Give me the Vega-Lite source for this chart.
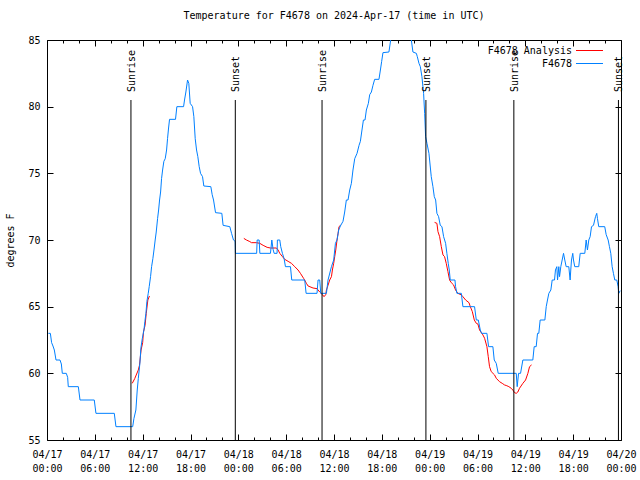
{
  "$schema": "https://vega.github.io/schema/vega-lite/v6.json",
  "width": 574,
  "height": 400,
  "autosize": {"type": "none"},
  "padding": {"left": 47, "top": 40, "right": 19, "bottom": 40},
  "background": "white",
  "title": {"text": "Temperature for F4678 on 2024-Apr-17 (time in UTC)", "font": "DejaVu Sans Mono", "fontSize": 10, "fontWeight": "normal", "anchor": "middle", "offset": 14, "color": "black"},
  "config": {
    "view": {"stroke": "black", "strokeWidth": 1},
    "axis": {"labelFont": "DejaVu Sans Mono", "labelFontSize": 10, "labelColor": "black", "tickColor": "black", "tickWidth": 1, "domain": false, "grid": false, "titleFont": "DejaVu Sans Mono", "titleFontSize": 10, "titleFontWeight": "normal", "titleColor": "black"}
  },
  "datasets": {
    "obs": [
      {"series": "F4678 Analysis", "seg": "a1", "hour": 10.69, "temp": 59.25},
      {"series": "F4678 Analysis", "seg": "a1", "hour": 11.0, "temp": 59.6},
      {"series": "F4678 Analysis", "seg": "a1", "hour": 11.45, "temp": 60.25},
      {"series": "F4678 Analysis", "seg": "a1", "hour": 11.6, "temp": 60.6},
      {"series": "F4678 Analysis", "seg": "a1", "hour": 11.8, "temp": 61.75},
      {"series": "F4678 Analysis", "seg": "a1", "hour": 12.0, "temp": 62.3},
      {"series": "F4678 Analysis", "seg": "a1", "hour": 12.1, "temp": 63.1},
      {"series": "F4678 Analysis", "seg": "a1", "hour": 12.3, "temp": 63.6},
      {"series": "F4678 Analysis", "seg": "a1", "hour": 12.45, "temp": 64.5},
      {"series": "F4678 Analysis", "seg": "a1", "hour": 12.65, "temp": 65.5},
      {"series": "F4678 Analysis", "seg": "a1", "hour": 12.85, "temp": 65.8},
      {"series": "F4678 Analysis", "seg": "a2", "hour": 24.69, "temp": 70.12},
      {"series": "F4678 Analysis", "seg": "a2", "hour": 25.02, "temp": 70.0},
      {"series": "F4678 Analysis", "seg": "a2", "hour": 25.44, "temp": 69.88},
      {"series": "F4678 Analysis", "seg": "a2", "hour": 25.65, "temp": 69.8},
      {"series": "F4678 Analysis", "seg": "a2", "hour": 26.28, "temp": 69.8},
      {"series": "F4678 Analysis", "seg": "a2", "hour": 26.69, "temp": 69.75},
      {"series": "F4678 Analysis", "seg": "a2", "hour": 27.11, "temp": 69.6},
      {"series": "F4678 Analysis", "seg": "a2", "hour": 27.61, "temp": 69.45},
      {"series": "F4678 Analysis", "seg": "a2", "hour": 28.03, "temp": 69.4},
      {"series": "F4678 Analysis", "seg": "a2", "hour": 28.78, "temp": 69.4},
      {"series": "F4678 Analysis", "seg": "a2", "hour": 28.99, "temp": 69.25},
      {"series": "F4678 Analysis", "seg": "a2", "hour": 29.2, "temp": 69.0},
      {"series": "F4678 Analysis", "seg": "a2", "hour": 29.54, "temp": 68.75},
      {"series": "F4678 Analysis", "seg": "a2", "hour": 29.82, "temp": 68.55},
      {"series": "F4678 Analysis", "seg": "a2", "hour": 30.24, "temp": 68.4},
      {"series": "F4678 Analysis", "seg": "a2", "hour": 30.66, "temp": 68.25},
      {"series": "F4678 Analysis", "seg": "a2", "hour": 31.08, "temp": 68.0},
      {"series": "F4678 Analysis", "seg": "a2", "hour": 31.49, "temp": 67.75},
      {"series": "F4678 Analysis", "seg": "a2", "hour": 31.79, "temp": 67.5},
      {"series": "F4678 Analysis", "seg": "a2", "hour": 32.21, "temp": 67.1},
      {"series": "F4678 Analysis", "seg": "a2", "hour": 32.54, "temp": 66.75},
      {"series": "F4678 Analysis", "seg": "a2", "hour": 32.75, "temp": 66.55},
      {"series": "F4678 Analysis", "seg": "a2", "hour": 33.37, "temp": 66.4},
      {"series": "F4678 Analysis", "seg": "a2", "hour": 33.87, "temp": 66.35},
      {"series": "F4678 Analysis", "seg": "a2", "hour": 34.21, "temp": 66.1},
      {"series": "F4678 Analysis", "seg": "a2", "hour": 34.55, "temp": 65.9},
      {"series": "F4678 Analysis", "seg": "a2", "hour": 34.75, "temp": 65.75},
      {"series": "F4678 Analysis", "seg": "a2", "hour": 34.96, "temp": 65.9},
      {"series": "F4678 Analysis", "seg": "a2", "hour": 35.05, "temp": 66.25},
      {"series": "F4678 Analysis", "seg": "a2", "hour": 35.25, "temp": 66.6},
      {"series": "F4678 Analysis", "seg": "a2", "hour": 35.46, "temp": 67.0},
      {"series": "F4678 Analysis", "seg": "a2", "hour": 35.68, "temp": 67.25},
      {"series": "F4678 Analysis", "seg": "a2", "hour": 35.8, "temp": 67.75},
      {"series": "F4678 Analysis", "seg": "a2", "hour": 35.96, "temp": 68.25},
      {"series": "F4678 Analysis", "seg": "a2", "hour": 36.09, "temp": 68.75},
      {"series": "F4678 Analysis", "seg": "a2", "hour": 36.22, "temp": 69.25},
      {"series": "F4678 Analysis", "seg": "a2", "hour": 36.38, "temp": 70.0},
      {"series": "F4678 Analysis", "seg": "a2", "hour": 36.51, "temp": 70.5},
      {"series": "F4678 Analysis", "seg": "a2", "hour": 36.63, "temp": 71.0},
      {"series": "F4678 Analysis", "seg": "a2", "hour": 36.8, "temp": 71.1},
      {"series": "F4678 Analysis", "seg": "a3", "hour": 48.62, "temp": 71.32},
      {"series": "F4678 Analysis", "seg": "a3", "hour": 48.91, "temp": 71.25},
      {"series": "F4678 Analysis", "seg": "a3", "hour": 49.04, "temp": 70.63},
      {"series": "F4678 Analysis", "seg": "a3", "hour": 49.25, "temp": 70.25},
      {"series": "F4678 Analysis", "seg": "a3", "hour": 49.46, "temp": 69.5},
      {"series": "F4678 Analysis", "seg": "a3", "hour": 49.67, "temp": 68.88},
      {"series": "F4678 Analysis", "seg": "a3", "hour": 49.87, "temp": 68.75},
      {"series": "F4678 Analysis", "seg": "a3", "hour": 50.08, "temp": 68.25},
      {"series": "F4678 Analysis", "seg": "a3", "hour": 50.29, "temp": 67.63},
      {"series": "F4678 Analysis", "seg": "a3", "hour": 50.5, "temp": 67.0},
      {"series": "F4678 Analysis", "seg": "a3", "hour": 50.71, "temp": 66.8},
      {"series": "F4678 Analysis", "seg": "a3", "hour": 51.0, "temp": 66.63},
      {"series": "F4678 Analysis", "seg": "a3", "hour": 51.25, "temp": 66.25},
      {"series": "F4678 Analysis", "seg": "a3", "hour": 51.54, "temp": 66.0},
      {"series": "F4678 Analysis", "seg": "a3", "hour": 51.97, "temp": 65.88},
      {"series": "F4678 Analysis", "seg": "a3", "hour": 52.17, "temp": 65.75},
      {"series": "F4678 Analysis", "seg": "a3", "hour": 52.51, "temp": 65.5},
      {"series": "F4678 Analysis", "seg": "a3", "hour": 52.93, "temp": 65.3},
      {"series": "F4678 Analysis", "seg": "a3", "hour": 53.1, "temp": 65.0},
      {"series": "F4678 Analysis", "seg": "a3", "hour": 53.35, "temp": 64.63},
      {"series": "F4678 Analysis", "seg": "a3", "hour": 53.6, "temp": 64.0},
      {"series": "F4678 Analysis", "seg": "a3", "hour": 53.85, "temp": 63.75},
      {"series": "F4678 Analysis", "seg": "a3", "hour": 54.05, "temp": 63.7},
      {"series": "F4678 Analysis", "seg": "a3", "hour": 54.26, "temp": 63.25},
      {"series": "F4678 Analysis", "seg": "a3", "hour": 54.68, "temp": 62.88},
      {"series": "F4678 Analysis", "seg": "a3", "hour": 54.89, "temp": 62.63},
      {"series": "F4678 Analysis", "seg": "a3", "hour": 55.18, "temp": 62.0},
      {"series": "F4678 Analysis", "seg": "a3", "hour": 55.35, "temp": 61.25},
      {"series": "F4678 Analysis", "seg": "a3", "hour": 55.51, "temp": 60.5},
      {"series": "F4678 Analysis", "seg": "a3", "hour": 55.72, "temp": 60.13},
      {"series": "F4678 Analysis", "seg": "a3", "hour": 56.14, "temp": 59.88},
      {"series": "F4678 Analysis", "seg": "a3", "hour": 56.35, "temp": 59.63},
      {"series": "F4678 Analysis", "seg": "a3", "hour": 56.77, "temp": 59.37},
      {"series": "F4678 Analysis", "seg": "a3", "hour": 57.1, "temp": 59.25},
      {"series": "F4678 Analysis", "seg": "a3", "hour": 57.39, "temp": 59.13},
      {"series": "F4678 Analysis", "seg": "a3", "hour": 57.68, "temp": 59.07},
      {"series": "F4678 Analysis", "seg": "a3", "hour": 57.93, "temp": 59.0},
      {"series": "F4678 Analysis", "seg": "a3", "hour": 58.23, "temp": 58.88},
      {"series": "F4678 Analysis", "seg": "a3", "hour": 58.43, "temp": 58.75},
      {"series": "F4678 Analysis", "seg": "a3", "hour": 58.65, "temp": 58.55},
      {"series": "F4678 Analysis", "seg": "a3", "hour": 58.86, "temp": 58.5},
      {"series": "F4678 Analysis", "seg": "a3", "hour": 59.06, "temp": 58.6},
      {"series": "F4678 Analysis", "seg": "a3", "hour": 59.27, "temp": 58.88},
      {"series": "F4678 Analysis", "seg": "a3", "hour": 59.69, "temp": 59.25},
      {"series": "F4678 Analysis", "seg": "a3", "hour": 60.03, "temp": 59.5},
      {"series": "F4678 Analysis", "seg": "a3", "hour": 60.32, "temp": 60.0},
      {"series": "F4678 Analysis", "seg": "a3", "hour": 60.53, "temp": 60.5},
      {"series": "F4678 Analysis", "seg": "a3", "hour": 60.78, "temp": 60.63},
      {"series": "F4678", "seg": "b", "hour": 0.17, "temp": 63.0},
      {"series": "F4678", "seg": "b", "hour": 0.42, "temp": 63.0},
      {"series": "F4678", "seg": "b", "hour": 0.58, "temp": 62.3},
      {"series": "F4678", "seg": "b", "hour": 0.75, "temp": 62.05},
      {"series": "F4678", "seg": "b", "hour": 0.92, "temp": 61.75},
      {"series": "F4678", "seg": "b", "hour": 1.13, "temp": 61.0},
      {"series": "F4678", "seg": "b", "hour": 1.63, "temp": 61.0},
      {"series": "F4678", "seg": "b", "hour": 1.8, "temp": 60.7},
      {"series": "F4678", "seg": "b", "hour": 1.92, "temp": 60.0},
      {"series": "F4678", "seg": "b", "hour": 2.42, "temp": 60.0},
      {"series": "F4678", "seg": "b", "hour": 2.59, "temp": 59.7},
      {"series": "F4678", "seg": "b", "hour": 2.67, "temp": 59.0},
      {"series": "F4678", "seg": "b", "hour": 3.93, "temp": 59.0},
      {"series": "F4678", "seg": "b", "hour": 4.14, "temp": 58.0},
      {"series": "F4678", "seg": "b", "hour": 5.93, "temp": 58.0},
      {"series": "F4678", "seg": "b", "hour": 6.14, "temp": 57.0},
      {"series": "F4678", "seg": "b", "hour": 8.44, "temp": 57.0},
      {"series": "F4678", "seg": "b", "hour": 8.65, "temp": 56.0},
      {"series": "F4678", "seg": "b", "hour": 10.75, "temp": 56.0},
      {"series": "F4678", "seg": "b", "hour": 10.9, "temp": 56.6},
      {"series": "F4678", "seg": "b", "hour": 11.15, "temp": 57.25},
      {"series": "F4678", "seg": "b", "hour": 11.32, "temp": 58.75},
      {"series": "F4678", "seg": "b", "hour": 11.45, "temp": 59.6},
      {"series": "F4678", "seg": "b", "hour": 11.65, "temp": 60.75},
      {"series": "F4678", "seg": "b", "hour": 11.78, "temp": 61.9},
      {"series": "F4678", "seg": "b", "hour": 11.95, "temp": 62.6},
      {"series": "F4678", "seg": "b", "hour": 12.16, "temp": 63.25},
      {"series": "F4678", "seg": "b", "hour": 12.28, "temp": 63.9},
      {"series": "F4678", "seg": "b", "hour": 12.41, "temp": 64.5},
      {"series": "F4678", "seg": "b", "hour": 12.53, "temp": 65.4},
      {"series": "F4678", "seg": "b", "hour": 12.7, "temp": 66.0},
      {"series": "F4678", "seg": "b", "hour": 12.82, "temp": 66.5},
      {"series": "F4678", "seg": "b", "hour": 12.99, "temp": 67.25},
      {"series": "F4678", "seg": "b", "hour": 13.12, "temp": 68.0},
      {"series": "F4678", "seg": "b", "hour": 13.28, "temp": 68.6},
      {"series": "F4678", "seg": "b", "hour": 13.45, "temp": 69.4},
      {"series": "F4678", "seg": "b", "hour": 13.57, "temp": 70.0},
      {"series": "F4678", "seg": "b", "hour": 13.7, "temp": 70.6},
      {"series": "F4678", "seg": "b", "hour": 13.87, "temp": 71.6},
      {"series": "F4678", "seg": "b", "hour": 14.0, "temp": 72.25},
      {"series": "F4678", "seg": "b", "hour": 14.12, "temp": 73.0},
      {"series": "F4678", "seg": "b", "hour": 14.25, "temp": 73.6},
      {"series": "F4678", "seg": "b", "hour": 14.37, "temp": 74.6},
      {"series": "F4678", "seg": "b", "hour": 14.5, "temp": 75.25},
      {"series": "F4678", "seg": "b", "hour": 14.66, "temp": 75.9},
      {"series": "F4678", "seg": "b", "hour": 14.83, "temp": 76.1},
      {"series": "F4678", "seg": "b", "hour": 15.0, "temp": 76.75},
      {"series": "F4678", "seg": "b", "hour": 15.12, "temp": 77.6},
      {"series": "F4678", "seg": "b", "hour": 15.25, "temp": 78.4},
      {"series": "F4678", "seg": "b", "hour": 15.37, "temp": 79.05},
      {"series": "F4678", "seg": "b", "hour": 16.12, "temp": 79.05},
      {"series": "F4678", "seg": "b", "hour": 16.29, "temp": 80.0},
      {"series": "F4678", "seg": "b", "hour": 17.13, "temp": 80.0},
      {"series": "F4678", "seg": "b", "hour": 17.25, "temp": 80.5},
      {"series": "F4678", "seg": "b", "hour": 17.42, "temp": 81.1},
      {"series": "F4678", "seg": "b", "hour": 17.63, "temp": 82.0},
      {"series": "F4678", "seg": "b", "hour": 17.79, "temp": 81.75},
      {"series": "F4678", "seg": "b", "hour": 17.96, "temp": 80.25},
      {"series": "F4678", "seg": "b", "hour": 18.26, "temp": 80.0},
      {"series": "F4678", "seg": "b", "hour": 18.42, "temp": 79.25},
      {"series": "F4678", "seg": "b", "hour": 18.59, "temp": 77.6},
      {"series": "F4678", "seg": "b", "hour": 18.76, "temp": 76.75},
      {"series": "F4678", "seg": "b", "hour": 18.92, "temp": 76.25},
      {"series": "F4678", "seg": "b", "hour": 19.09, "temp": 75.5},
      {"series": "F4678", "seg": "b", "hour": 19.26, "temp": 75.0},
      {"series": "F4678", "seg": "b", "hour": 19.51, "temp": 74.75},
      {"series": "F4678", "seg": "b", "hour": 19.67, "temp": 74.05},
      {"series": "F4678", "seg": "b", "hour": 20.55, "temp": 74.0},
      {"series": "F4678", "seg": "b", "hour": 20.72, "temp": 73.4},
      {"series": "F4678", "seg": "b", "hour": 20.89, "temp": 73.0},
      {"series": "F4678", "seg": "b", "hour": 21.14, "temp": 72.05},
      {"series": "F4678", "seg": "b", "hour": 21.93, "temp": 72.0},
      {"series": "F4678", "seg": "b", "hour": 22.09, "temp": 71.1},
      {"series": "F4678", "seg": "b", "hour": 22.93, "temp": 71.0},
      {"series": "F4678", "seg": "b", "hour": 23.15, "temp": 70.5},
      {"series": "F4678", "seg": "b", "hour": 23.39, "temp": 70.0},
      {"series": "F4678", "seg": "b", "hour": 23.6, "temp": 69.9},
      {"series": "F4678", "seg": "b", "hour": 23.64, "temp": 69.0},
      {"series": "F4678", "seg": "b", "hour": 26.3, "temp": 69.0},
      {"series": "F4678", "seg": "b", "hour": 26.36, "temp": 70.0},
      {"series": "F4678", "seg": "b", "hour": 26.61, "temp": 70.0},
      {"series": "F4678", "seg": "b", "hour": 26.7, "temp": 69.0},
      {"series": "F4678", "seg": "b", "hour": 28.03, "temp": 69.0},
      {"series": "F4678", "seg": "b", "hour": 28.2, "temp": 70.0},
      {"series": "F4678", "seg": "b", "hour": 28.36, "temp": 69.3},
      {"series": "F4678", "seg": "b", "hour": 28.49, "temp": 69.0},
      {"series": "F4678", "seg": "b", "hour": 28.86, "temp": 69.0},
      {"series": "F4678", "seg": "b", "hour": 28.9, "temp": 70.0},
      {"series": "F4678", "seg": "b", "hour": 29.2, "temp": 70.0},
      {"series": "F4678", "seg": "b", "hour": 29.32, "temp": 69.5},
      {"series": "F4678", "seg": "b", "hour": 29.53, "temp": 69.0},
      {"series": "F4678", "seg": "b", "hour": 29.74, "temp": 68.6},
      {"series": "F4678", "seg": "b", "hour": 29.91, "temp": 68.0},
      {"series": "F4678", "seg": "b", "hour": 30.54, "temp": 68.0},
      {"series": "F4678", "seg": "b", "hour": 30.7, "temp": 67.0},
      {"series": "F4678", "seg": "b", "hour": 32.33, "temp": 67.0},
      {"series": "F4678", "seg": "b", "hour": 32.5, "temp": 66.0},
      {"series": "F4678", "seg": "b", "hour": 33.87, "temp": 66.0},
      {"series": "F4678", "seg": "b", "hour": 34.0, "temp": 67.0},
      {"series": "F4678", "seg": "b", "hour": 34.21, "temp": 67.0},
      {"series": "F4678", "seg": "b", "hour": 34.34, "temp": 66.0},
      {"series": "F4678", "seg": "b", "hour": 35.05, "temp": 66.0},
      {"series": "F4678", "seg": "b", "hour": 35.25, "temp": 67.0},
      {"series": "F4678", "seg": "b", "hour": 35.68, "temp": 68.0},
      {"series": "F4678", "seg": "b", "hour": 35.96, "temp": 68.5},
      {"series": "F4678", "seg": "b", "hour": 36.18, "temp": 69.75},
      {"series": "F4678", "seg": "b", "hour": 36.38, "temp": 70.0},
      {"series": "F4678", "seg": "b", "hour": 36.59, "temp": 70.75},
      {"series": "F4678", "seg": "b", "hour": 36.8, "temp": 71.05},
      {"series": "F4678", "seg": "b", "hour": 37.13, "temp": 71.4},
      {"series": "F4678", "seg": "b", "hour": 37.34, "temp": 72.1},
      {"series": "F4678", "seg": "b", "hour": 37.55, "temp": 73.0},
      {"series": "F4678", "seg": "b", "hour": 37.76, "temp": 73.0},
      {"series": "F4678", "seg": "b", "hour": 37.97, "temp": 73.75},
      {"series": "F4678", "seg": "b", "hour": 38.18, "temp": 74.25},
      {"series": "F4678", "seg": "b", "hour": 38.38, "temp": 75.25},
      {"series": "F4678", "seg": "b", "hour": 38.6, "temp": 76.1},
      {"series": "F4678", "seg": "b", "hour": 38.89, "temp": 76.5},
      {"series": "F4678", "seg": "b", "hour": 39.14, "temp": 77.1},
      {"series": "F4678", "seg": "b", "hour": 39.31, "temp": 77.4},
      {"series": "F4678", "seg": "b", "hour": 39.51, "temp": 78.25},
      {"series": "F4678", "seg": "b", "hour": 39.69, "temp": 79.0},
      {"series": "F4678", "seg": "b", "hour": 39.89, "temp": 79.0},
      {"series": "F4678", "seg": "b", "hour": 40.06, "temp": 79.75},
      {"series": "F4678", "seg": "b", "hour": 40.31, "temp": 80.25},
      {"series": "F4678", "seg": "b", "hour": 40.48, "temp": 80.9},
      {"series": "F4678", "seg": "b", "hour": 40.69, "temp": 81.1},
      {"series": "F4678", "seg": "b", "hour": 40.89, "temp": 81.6},
      {"series": "F4678", "seg": "b", "hour": 41.1, "temp": 82.05},
      {"series": "F4678", "seg": "b", "hour": 41.64, "temp": 82.05},
      {"series": "F4678", "seg": "b", "hour": 41.82, "temp": 82.75},
      {"series": "F4678", "seg": "b", "hour": 41.98, "temp": 83.4},
      {"series": "F4678", "seg": "b", "hour": 42.14, "temp": 84.05},
      {"series": "F4678", "seg": "b", "hour": 42.89, "temp": 84.1},
      {"series": "F4678", "seg": "b", "hour": 43.11, "temp": 85.0},
      {"series": "F4678", "seg": "b", "hour": 43.6, "temp": 86.0},
      {"series": "F4678", "seg": "b", "hour": 45.2, "temp": 86.0},
      {"series": "F4678", "seg": "b", "hour": 45.7, "temp": 85.0},
      {"series": "F4678", "seg": "b", "hour": 45.9, "temp": 84.1},
      {"series": "F4678", "seg": "b", "hour": 46.33, "temp": 84.0},
      {"series": "F4678", "seg": "b", "hour": 46.45, "temp": 83.75},
      {"series": "F4678", "seg": "b", "hour": 46.66, "temp": 83.25},
      {"series": "F4678", "seg": "b", "hour": 46.83, "temp": 83.0},
      {"series": "F4678", "seg": "b", "hour": 47.03, "temp": 82.25},
      {"series": "F4678", "seg": "b", "hour": 47.24, "temp": 81.0},
      {"series": "F4678", "seg": "b", "hour": 47.37, "temp": 79.5},
      {"series": "F4678", "seg": "b", "hour": 47.49, "temp": 77.75},
      {"series": "F4678", "seg": "b", "hour": 47.66, "temp": 77.25},
      {"series": "F4678", "seg": "b", "hour": 47.91, "temp": 76.5},
      {"series": "F4678", "seg": "b", "hour": 48.2, "temp": 74.75},
      {"series": "F4678", "seg": "b", "hour": 48.41, "temp": 74.0},
      {"series": "F4678", "seg": "b", "hour": 48.58, "temp": 73.25},
      {"series": "F4678", "seg": "b", "hour": 48.75, "temp": 73.0},
      {"series": "F4678", "seg": "b", "hour": 48.91, "temp": 72.0},
      {"series": "F4678", "seg": "b", "hour": 49.12, "temp": 71.75},
      {"series": "F4678", "seg": "b", "hour": 49.33, "temp": 71.1},
      {"series": "F4678", "seg": "b", "hour": 49.54, "temp": 71.0},
      {"series": "F4678", "seg": "b", "hour": 49.75, "temp": 70.25},
      {"series": "F4678", "seg": "b", "hour": 50.0, "temp": 69.75},
      {"series": "F4678", "seg": "b", "hour": 50.16, "temp": 69.0},
      {"series": "F4678", "seg": "b", "hour": 50.33, "temp": 68.25},
      {"series": "F4678", "seg": "b", "hour": 50.46, "temp": 67.75},
      {"series": "F4678", "seg": "b", "hour": 50.58, "temp": 67.0},
      {"series": "F4678", "seg": "b", "hour": 51.17, "temp": 67.0},
      {"series": "F4678", "seg": "b", "hour": 51.25, "temp": 66.5},
      {"series": "F4678", "seg": "b", "hour": 51.42, "temp": 66.0},
      {"series": "F4678", "seg": "b", "hour": 51.97, "temp": 66.0},
      {"series": "F4678", "seg": "b", "hour": 52.17, "temp": 65.0},
      {"series": "F4678", "seg": "b", "hour": 53.63, "temp": 65.0},
      {"series": "F4678", "seg": "b", "hour": 53.85, "temp": 64.0},
      {"series": "F4678", "seg": "b", "hour": 54.1, "temp": 64.0},
      {"series": "F4678", "seg": "b", "hour": 54.35, "temp": 63.25},
      {"series": "F4678", "seg": "b", "hour": 54.51, "temp": 63.0},
      {"series": "F4678", "seg": "b", "hour": 55.18, "temp": 63.0},
      {"series": "F4678", "seg": "b", "hour": 55.39, "temp": 62.0},
      {"series": "F4678", "seg": "b", "hour": 55.93, "temp": 62.0},
      {"series": "F4678", "seg": "b", "hour": 56.1, "temp": 61.0},
      {"series": "F4678", "seg": "b", "hour": 56.35, "temp": 60.75},
      {"series": "F4678", "seg": "b", "hour": 56.6, "temp": 60.0},
      {"series": "F4678", "seg": "b", "hour": 58.86, "temp": 60.0},
      {"series": "F4678", "seg": "b", "hour": 58.98, "temp": 59.0},
      {"series": "F4678", "seg": "b", "hour": 59.15, "temp": 60.0},
      {"series": "F4678", "seg": "b", "hour": 59.4, "temp": 60.0},
      {"series": "F4678", "seg": "b", "hour": 59.69, "temp": 61.0},
      {"series": "F4678", "seg": "b", "hour": 60.94, "temp": 61.0},
      {"series": "F4678", "seg": "b", "hour": 61.11, "temp": 62.0},
      {"series": "F4678", "seg": "b", "hour": 61.36, "temp": 62.0},
      {"series": "F4678", "seg": "b", "hour": 61.53, "temp": 63.0},
      {"series": "F4678", "seg": "b", "hour": 61.69, "temp": 63.0},
      {"series": "F4678", "seg": "b", "hour": 61.86, "temp": 64.0},
      {"series": "F4678", "seg": "b", "hour": 62.45, "temp": 64.0},
      {"series": "F4678", "seg": "b", "hour": 62.62, "temp": 65.0},
      {"series": "F4678", "seg": "b", "hour": 62.78, "temp": 65.5},
      {"series": "F4678", "seg": "b", "hour": 62.95, "temp": 66.0},
      {"series": "F4678", "seg": "b", "hour": 63.2, "temp": 66.25},
      {"series": "F4678", "seg": "b", "hour": 63.37, "temp": 67.0},
      {"series": "F4678", "seg": "b", "hour": 63.66, "temp": 67.0},
      {"series": "F4678", "seg": "b", "hour": 63.78, "temp": 67.75},
      {"series": "F4678", "seg": "b", "hour": 63.95, "temp": 68.0},
      {"series": "F4678", "seg": "b", "hour": 64.04, "temp": 67.0},
      {"series": "F4678", "seg": "b", "hour": 64.2, "temp": 68.0},
      {"series": "F4678", "seg": "b", "hour": 64.29, "temp": 67.25},
      {"series": "F4678", "seg": "b", "hour": 64.45, "temp": 68.0},
      {"series": "F4678", "seg": "b", "hour": 64.62, "temp": 68.5},
      {"series": "F4678", "seg": "b", "hour": 64.79, "temp": 69.0},
      {"series": "F4678", "seg": "b", "hour": 64.95, "temp": 68.5},
      {"series": "F4678", "seg": "b", "hour": 65.12, "temp": 68.0},
      {"series": "F4678", "seg": "b", "hour": 65.45, "temp": 68.0},
      {"series": "F4678", "seg": "b", "hour": 65.62, "temp": 67.0},
      {"series": "F4678", "seg": "b", "hour": 65.7, "temp": 67.75},
      {"series": "F4678", "seg": "b", "hour": 65.79, "temp": 68.5},
      {"series": "F4678", "seg": "b", "hour": 65.95, "temp": 69.0},
      {"series": "F4678", "seg": "b", "hour": 66.04, "temp": 68.5},
      {"series": "F4678", "seg": "b", "hour": 66.2, "temp": 68.0},
      {"series": "F4678", "seg": "b", "hour": 66.7, "temp": 68.0},
      {"series": "F4678", "seg": "b", "hour": 66.88, "temp": 69.0},
      {"series": "F4678", "seg": "b", "hour": 67.46, "temp": 69.0},
      {"series": "F4678", "seg": "b", "hour": 67.63, "temp": 70.0},
      {"series": "F4678", "seg": "b", "hour": 67.79, "temp": 69.25},
      {"series": "F4678", "seg": "b", "hour": 67.96, "temp": 70.0},
      {"series": "F4678", "seg": "b", "hour": 68.13, "temp": 70.25},
      {"series": "F4678", "seg": "b", "hour": 68.3, "temp": 71.0},
      {"series": "F4678", "seg": "b", "hour": 68.55, "temp": 71.1},
      {"series": "F4678", "seg": "b", "hour": 68.8, "temp": 71.75},
      {"series": "F4678", "seg": "b", "hour": 68.96, "temp": 72.0},
      {"series": "F4678", "seg": "b", "hour": 69.05, "temp": 71.6},
      {"series": "F4678", "seg": "b", "hour": 69.21, "temp": 71.0},
      {"series": "F4678", "seg": "b", "hour": 69.96, "temp": 71.0},
      {"series": "F4678", "seg": "b", "hour": 70.14, "temp": 70.4},
      {"series": "F4678", "seg": "b", "hour": 70.39, "temp": 70.0},
      {"series": "F4678", "seg": "b", "hour": 70.55, "temp": 69.5},
      {"series": "F4678", "seg": "b", "hour": 70.72, "temp": 69.0},
      {"series": "F4678", "seg": "b", "hour": 70.89, "temp": 68.0},
      {"series": "F4678", "seg": "b", "hour": 71.05, "temp": 67.5},
      {"series": "F4678", "seg": "b", "hour": 71.22, "temp": 67.0},
      {"series": "F4678", "seg": "b", "hour": 71.47, "temp": 67.0},
      {"series": "F4678", "seg": "b", "hour": 71.64, "temp": 66.5},
      {"series": "F4678", "seg": "b", "hour": 71.72, "temp": 66.0},
      {"series": "F4678", "seg": "b", "hour": 71.9, "temp": 66.2}
    ],
    "sun": [
      {"event": "Sunrise", "hour": 10.53},
      {"event": "Sunset", "hour": 23.62},
      {"event": "Sunrise", "hour": 34.5},
      {"event": "Sunset", "hour": 47.53},
      {"event": "Sunrise", "hour": 58.56},
      {"event": "Sunset", "hour": 71.68}
    ]
  },
  "layer": [
    {
      "data": {"name": "obs"},
      "transform": [{"filter": "datum.series == 'F4678 Analysis'"}],
      "mark": {"type": "line", "strokeWidth": 1, "clip": true},
      "encoding": {
        "x": {"field": "hour", "type": "quantitative", "scale": {"domain": [0, 72], "nice": false, "zero": false},
          "axis": {"orient": "bottom", "values": [0, 6, 12, 18, 24, 30, 36, 42, 48, 54, 60, 66, 72], "tickSize": -6, "labelPadding": 15, "labelLineHeight": 14, "labelAngle": 0, "labelFlush": false, "labelOverlap": false, "title": null,
            "labelExpr": "['04/' + (17 + floor(datum.value / 24)), (datum.value % 24 < 10 ? '0' : '') + (datum.value % 24) + ':00']"}},
        "y": {"field": "temp", "type": "quantitative", "scale": {"domain": [55, 85], "nice": false, "zero": false},
          "axis": {"orient": "left", "values": [55, 60, 65, 70, 75, 80, 85], "tickSize": -6, "labelPadding": 13, "title": "degrees F", "titlePadding": 12}},
        "color": {"field": "series", "type": "nominal", "scale": {"domain": ["F4678 Analysis", "F4678"], "range": ["#ff0000", "#0080ff"]},
          "legend": {"orient": "none", "legendX": 535, "legendY": 3, "title": null, "padding": 0, "labelFont": "DejaVu Sans Mono", "labelFontSize": 10, "labelColor": "black", "symbolType": "M-2,0H2", "symbolSize": 182, "symbolStrokeWidth": 1, "labelAlign": "right", "labelOffset": -25, "rowPadding": 0}},
        "detail": {"field": "seg", "type": "nominal"}
      }
    },
    {
      "data": {"name": "obs"},
      "transform": [{"filter": "datum.series == 'F4678'"}],
      "mark": {"type": "line", "strokeWidth": 1, "clip": true},
      "encoding": {
        "x": {"field": "hour", "type": "quantitative",
          "axis": {"orient": "top", "values": [0, 6, 12, 18, 24, 30, 36, 42, 48, 54, 60, 66, 72], "tickSize": -6, "labels": false, "title": null}},
        "y": {"field": "temp", "type": "quantitative",
          "axis": {"orient": "right", "values": [55, 60, 65, 70, 75, 80, 85], "tickSize": -6, "labels": false, "title": null}},
        "color": {"field": "series", "type": "nominal"},
        "detail": {"field": "seg", "type": "nominal"}
      }
    },
    {
      "data": {"name": "sun"},
      "mark": {"type": "rule", "color": "black", "strokeWidth": 1},
      "encoding": {
        "x": {"field": "hour", "type": "quantitative",
          "axis": {"orient": "bottom", "values": [2, 4, 8, 10, 14, 16, 20, 22, 26, 28, 32, 34, 38, 40, 44, 46, 50, 52, 56, 58, 62, 64, 68, 70], "tickSize": -3, "labels": false, "title": null}},
        "y": {"datum": 55, "type": "quantitative", "axis": null},
        "y2": {"datum": 80.5}
      }
    },
    {
      "data": {"name": "sun"},
      "mark": {"type": "text", "angle": 270, "align": "left", "baseline": "middle", "font": "DejaVu Sans Mono", "fontSize": 10, "color": "black", "dy": 1},
      "encoding": {
        "x": {"field": "hour", "type": "quantitative",
          "axis": {"orient": "top", "values": [2, 4, 8, 10, 14, 16, 20, 22, 26, 28, 32, 34, 38, 40, 44, 46, 50, 52, 56, 58, 62, 64, 68, 70], "tickSize": -3, "labels": false, "title": null}},
        "y": {"datum": 81.1, "type": "quantitative", "axis": null},
        "text": {"field": "event"}
      }
    }
  ],
  "resolve": {"axis": {"x": "independent", "y": "independent"}}
}
